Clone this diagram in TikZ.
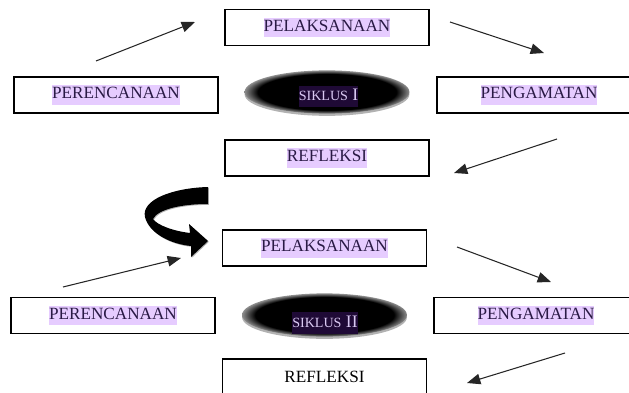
\documentclass[tikz,border=0pt]{standalone}
\usepackage{fontspec}
\setmainfont{Liberation Serif}
\usepackage{tikz}
\usetikzlibrary{shapes.geometric, shadows, arrows.meta}

\definecolor{hlpurple}{HTML}{E6CCFF}
\definecolor{inkpurple}{HTML}{2A1A45}
\definecolor{sikbg}{HTML}{1F0A36}
\definecolor{siktext}{HTML}{D9C9F2}

\pgfdeclareradialshading{glossy}{\pgfpoint{0bp}{0bp}}{%
  color(0bp)=(black); color(21bp)=(black); color(25bp)=(black!45); color(50bp)=(black!45)}

\newcommand{\lbl}[1]{{\setlength{\fboxsep}{0pt}\colorbox{hlpurple}{\strut\textcolor{inkpurple}{#1}}}}
\newcommand{\lblsik}[1]{{\setlength{\fboxsep}{0pt}\colorbox{sikbg}{\strut\textcolor{siktext}{#1}}}}

\begin{document}
\begin{tikzpicture}[
    x=0.025cm, y=-0.025cm,
    cycblock/.style  = {rectangle, draw=black, line width=1.2pt,
                        minimum height=0.9cm, minimum width=5.1cm,
                        inner sep=0pt, font=\fontsize{12.2}{14}\selectfont},
    sikblock/.style  = {ellipse, shading=glossy, draw=none,
                        minimum height=1.08cm, minimum width=4.12cm, inner sep=0pt,
                        drop shadow={shadow xshift=0pt, shadow yshift=-1.6pt,
                                     opacity=0.3, fill=black}},
    siklbl/.style    = {inner sep=0pt, font=\fontsize{12.5}{15}\selectfont},
    conn/.style      = {line width=0.75pt, draw=black!85,
                        -{Triangle[length=9.5pt, width=7.5pt]}},
    curl/.style      = {fill=black, draw=none,
                        drop shadow={shadow xshift=0.6pt, shadow yshift=-0.6pt,
                                     opacity=0.3, fill=black}},
]

\useasboundingbox (0,0) rectangle (629,393);
\clip (0,0) rectangle (629,393);

%% ============================================================
%% COORDINATES (pixels, y downwards)
%% ============================================================
\def\xLA{116}
\def\xMA{327}
\def\xRA{539}
\def\xLB{113}
\def\xMB{324.5}
\def\xRB{536}

\def\yPelA{27.5}
\def\yRowA{95}
\def\ySikA{92}
\def\yRefA{158}

\def\yPelB{248}
\def\yRowB{315.5}
\def\ySikB{315}
\def\yRefB{377}

%% ============================================================
%% SIKLUS I
%% ============================================================
\node[cycblock] (pelA) at (\xMA, \yPelA) {\lbl{PELAKSANAAN}};
\node[cycblock] (perA) at (\xLA, \yRowA)  {\lbl{PERENCANAAN}};
\node[sikblock] (sikA) at (\xMA, \ySikA)  {};
\node[siklbl]   (sikAtxt) at (328.5, 96.5)
    {\lblsik{{\fontsize{10}{11}\selectfont SIKLUS} I}};
\node[cycblock] (penA) at (\xRA, \yRowA)  {\lbl{PENGAMATAN}};
\node[cycblock] (refA) at (\xMA, \yRefA)  {\lbl{REFLEKSI}};

\coordinate (a1s) at (96,61);   \coordinate (a1e) at (195,22);
\coordinate (a2s) at (450,22);  \coordinate (a2e) at (544,53);
\coordinate (a3s) at (557,139); \coordinate (a3e) at (454,173);

\draw[conn] (a1s) -- (a1e);
\draw[conn] (a2s) -- (a2e);
\draw[conn] (a3s) -- (a3e);

%% ============================================================
%% CURLED ARROW (to the next cycle)
%% ============================================================
\path[curl] (208,187) .. controls (172,188) and (141,200) .. (145,217)
    .. controls (149,233) and (170,244) .. (191,246)
    -- (191,257) -- (208,241) -- (189,224) -- (190,233)
    .. controls (173,231) and (157,225) .. (153,219)
    .. controls (158,209) and (182,204) .. (208,204) -- cycle;

%% ============================================================
%% SIKLUS II
%% ============================================================
\node[cycblock] (pelB) at (\xMB, \yPelB) {\lbl{PELAKSANAAN}};
\node[cycblock] (perB) at (\xLB, \yRowB) {\lbl{PERENCANAAN}};
\node[sikblock] (sikB) at (\xMB, \ySikB) {};
\node[siklbl]   (sikBtxt) at (325, 323)
    {\lblsik{{\fontsize{10}{11}\selectfont SIKLUS} II}};
\node[cycblock] (penB) at (\xRB, \yRowB) {\lbl{PENGAMATAN}};
\node[cycblock] (refB) at (\xMB, \yRefB) {REFLEKSI};

\coordinate (b1s) at (63,287);  \coordinate (b1e) at (181,258);
\coordinate (b2s) at (457,247); \coordinate (b2e) at (551,282);
\coordinate (b3s) at (565,353); \coordinate (b3e) at (467,383);

\draw[conn] (b1s) -- (b1e);
\draw[conn] (b2s) -- (b2e);
\draw[conn] (b3s) -- (b3e);

\end{tikzpicture}
\end{document}
